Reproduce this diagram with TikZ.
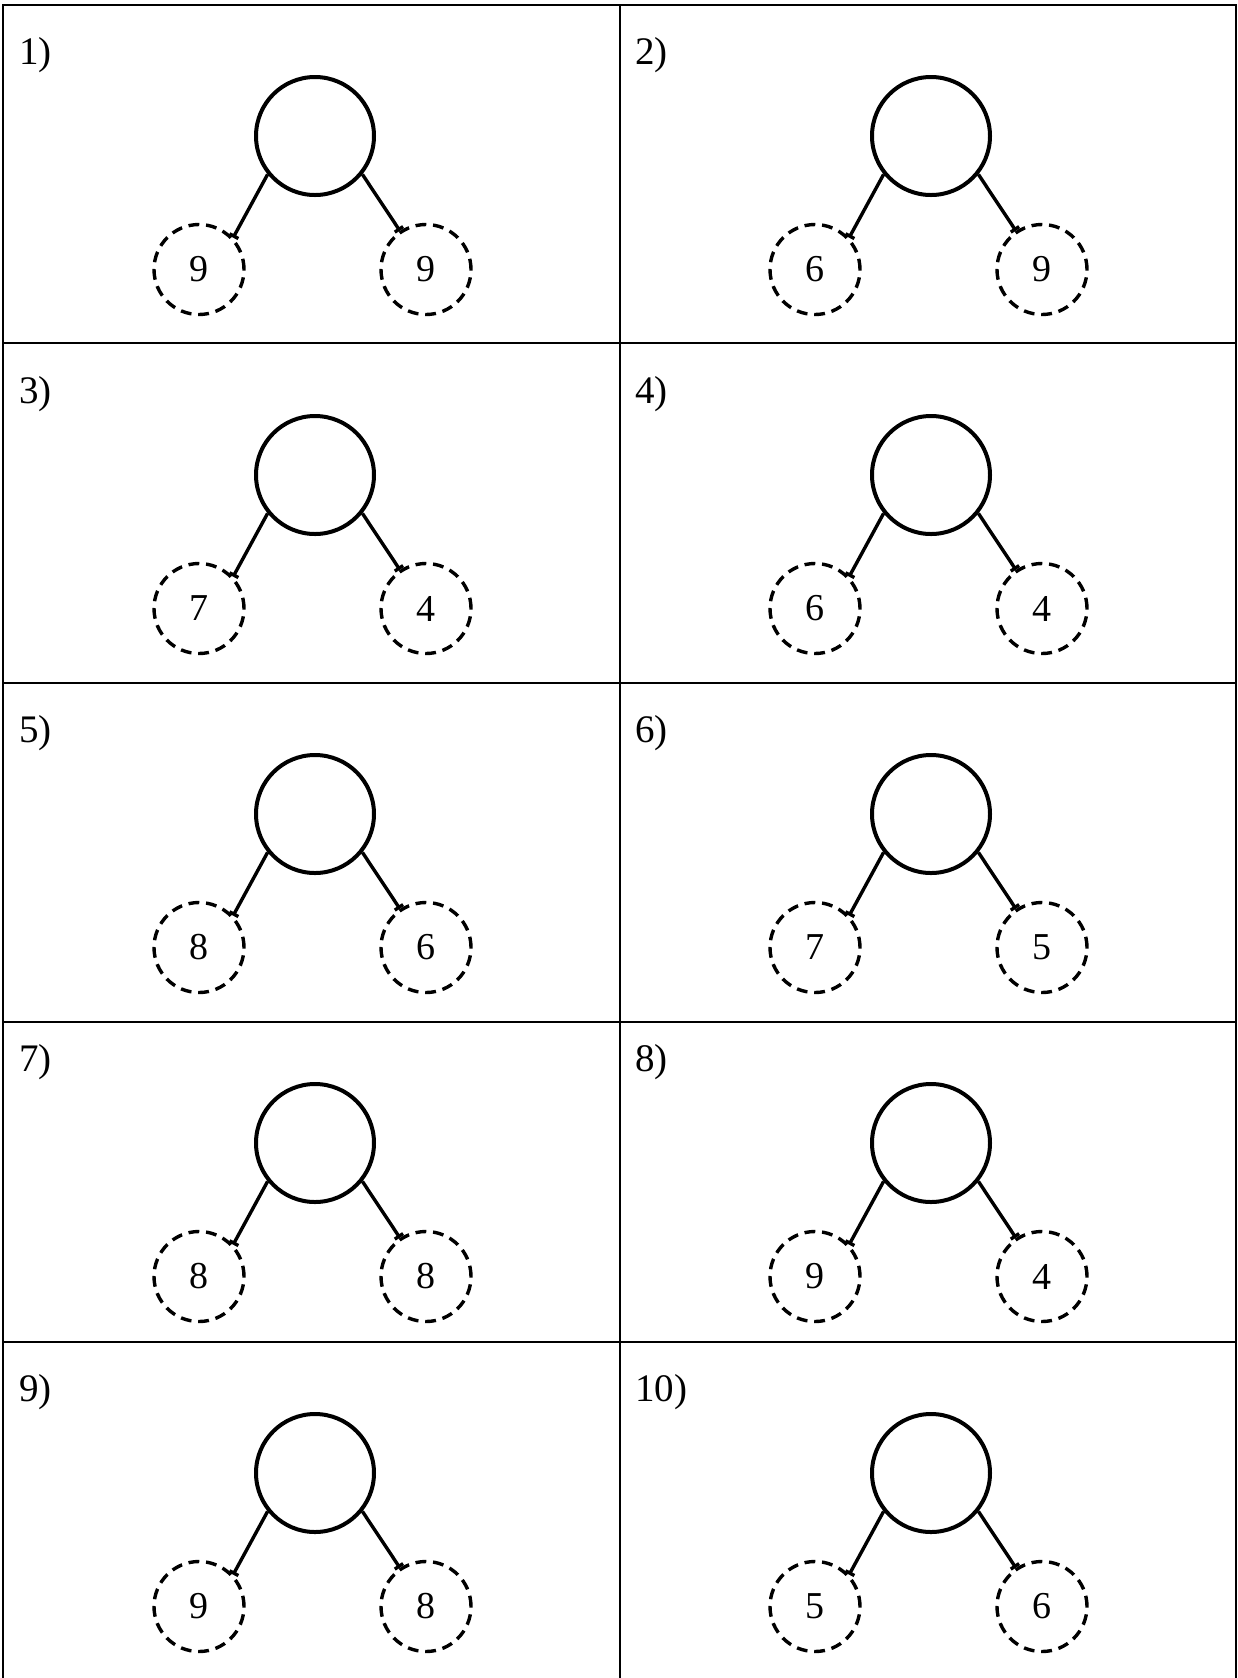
\documentclass[tikz,border=0pt]{standalone}
\usepackage{fontspec}
\setmainfont{Liberation Serif}
\usetikzlibrary{arrows.meta}
\tikzset{
  whole/.style={circle, draw, line width=2pt, minimum size=59pt, inner sep=0pt},
  part/.style={circle, draw, line width=1.7pt, dash pattern=on 5.4pt off 3.4pt,
    minimum size=45pt, inner sep=0pt, font=\fontsize{19}{21}\selectfont},
  tag/.style={anchor=base west, inner sep=0pt, font=\fontsize{19.5}{22}\selectfont},
  link/.style={line width=1.7pt, -{Bar[width=5pt]}},
  grid/.style={line width=1.2pt}
}
\begin{document}
\begin{tikzpicture}[x=0.5pt, y=-0.5pt]
\useasboundingbox (0,0) rectangle (1238,1678);
% table lines
\draw[grid] (3,1700) -- (3,5) -- (1236,5) -- (1236,1700);
\draw[grid] (620,5) -- (620,1700);
\foreach \y in {343,683,1022,1342}
  \draw[grid] (3,\y) -- (1236,\y);
% number bonds: number / x / y / left part / right part
\foreach \n/\cx/\cy/\a/\b in {1/315/136/9/9, 2/931/136/6/9, 3/315/475/7/4, 4/931/475/6/4,
    5/315/814/8/6, 6/931/814/7/5, 7/315/1143/8/8, 8/931/1143/9/4,
    9/315/1473/9/8, 10/931/1473/5/6}{
  \node[whole] (whole\n) at (\cx,\cy) {};
  \node[part] (partA\n) at (\cx-116,\cy+133.5) {\a};
  \node[part] (partB\n) at (\cx+111,\cy+133.5) {\b};
  \node[tag] (num\n) at (\cx-296,\cy-72) {\n)};
  \draw[link] (whole\n.219) -- (partA\n.43);
  \draw[link] (whole\n.321) -- (partB\n.124);
}
\end{tikzpicture}
\end{document}
